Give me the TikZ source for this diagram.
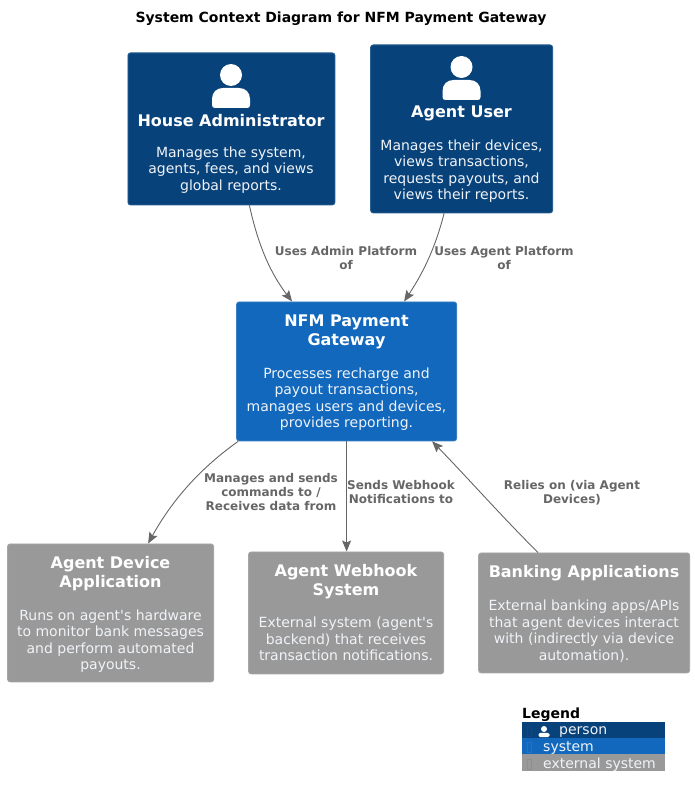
\documentclass[tikz,border=0pt]{standalone}
\usepackage{fontspec}
\setmainfont{DejaVu Sans}
\usetikzlibrary{arrows.meta}
\definecolor{personc}{HTML}{08427B}
\definecolor{personb}{HTML}{2A5F93}
\definecolor{systemc}{HTML}{1168BD}
\definecolor{systemb}{HTML}{3C7FC0}
\definecolor{extc}{HTML}{999999}
\definecolor{extb}{HTML}{A6A6A6}
\definecolor{linec}{HTML}{666666}
\definecolor{labelc}{HTML}{666666}
\definecolor{descc}{HTML}{F0F3F7}
\tikzset{
  x=1pt,y=-1pt,
  box/.style={rectangle,rounded corners=2.5pt,inner sep=0pt,line width=0.8pt,anchor=north west},
  personbox/.style={box,fill=personc,draw=personb},
  systembox/.style={box,fill=systemc,draw=systemb},
  extbox/.style={box,fill=extc,draw=extb},
  nametext/.style={text=white,align=center,inner sep=0pt,font=\fontsize{16}{19}\selectfont\bfseries},
  desctext/.style={text=descc,align=center,inner sep=0pt,font=\fontsize{14}{16.4}\selectfont},
  linklabel/.style={text=labelc,align=center,inner sep=0pt,font=\fontsize{12}{14}\selectfont\bfseries},
  rel/.style={draw=linec,line width=0.9pt,-{Stealth[length=11pt,width=9pt,inset=2pt,fill=linec]}},
  legendrow/.style={rectangle,inner sep=0pt,anchor=north west,minimum width=143pt,minimum height=16pt},
  legendtext/.style={text=descc,inner sep=0pt,anchor=west,font=\fontsize{14}{16}\selectfont},
  tofu/.style={draw=#1,line width=0.6pt,fill=none},
}
\newcommand{\personicon}[2]{%
  \fill[white] (#1,#2) circle (11);
  \fill[white] (#1-19,#2+30) -- (#1-19,#2+24) .. controls (#1-19,#2+17) and (#1-14,#2+13) .. (#1-8,#2+13)
    -- (#1+8,#2+13) .. controls (#1+14,#2+13) and (#1+19,#2+17) .. (#1+19,#2+24) -- (#1+19,#2+30)
    .. controls (#1+19,#2+32) and (#1+18,#2+33) .. (#1+16,#2+33) -- (#1-16,#2+33)
    .. controls (#1-18,#2+33) and (#1-19,#2+32) .. (#1-19,#2+30) -- cycle;
}
\begin{document}
\begin{tikzpicture}
\useasboundingbox (0,0) rectangle (694,797);
\node[inner sep=0pt,font=\fontsize{14}{16}\selectfont\bfseries] (title) at (341,19) {System Context Diagram for NFM Payment Gateway};

\node[personbox,minimum width=207pt,minimum height=152pt] (house) at (127.5,52.5) {};
\node[personbox,minimum width=182pt,minimum height=168pt] (agent) at (370.2,44.5) {};
\node[systembox,minimum width=220pt,minimum height=139pt] (nfm) at (236.2,301.5) {};
\node[extbox,minimum width=206pt,minimum height=138pt] (device) at (7.2,543.5) {};
\node[extbox,minimum width=195pt,minimum height=122pt] (webhook) at (248.2,551.5) {};
\node[extbox,minimum width=211pt,minimum height=120pt] (banking) at (478.2,552.5) {};

\personicon{231}{75}
\personicon{461.5}{67}

\node[nametext] (housename) at (231,121) {House Administrator};
\node[desctext] (housedesc) at (231,170) {Manages the system,\\agents, fees, and views\\global reports.};
\node[nametext] (agentname) at (461.5,113) {Agent User};
\node[desctext] (agentdesc) at (461.5,171) {Manages their devices,\\views transactions,\\requests payouts, and\\views their reports.};
\node[nametext] (nfmname) at (346.5,331.5) {NFM Payment\\Gateway};
\node[desctext] (nfmdesc) at (346.5,399) {Processes recharge and\\payout transactions,\\manages users and devices,\\provides reporting.};
\node[nametext] (devicename) at (110.5,573.5) {Agent Device\\Application};
\node[desctext] (devicedesc) at (110.5,641) {Runs on agent\textquotesingle s hardware\\to monitor bank messages\\and perform automated\\payouts.};
\node[nametext] (webhookname) at (346,581.5) {Agent Webhook\\System};
\node[desctext] (webhookdesc) at (346,639) {External system (agent\textquotesingle s\\backend) that receives\\transaction notifications.};
\node[nametext] (bankingname) at (584,573) {Banking Applications};
\node[desctext] (bankingdesc) at (584,631) {External banking apps/APIs\\that agent devices interact\\with (indirectly via device\\automation).};

\draw[rel] ([xshift=18pt]house.south) .. controls (257,240) and (268,270) .. ([xshift=-54.5pt]nfm.north);
\draw[rel] ([xshift=-17.5pt]agent.south) .. controls (436,245) and (425,270) .. ([xshift=57.5pt]nfm.north);
\draw[rel] ([xshift=2pt]nfm.south west) .. controls (205,465) and (175,495) .. ([xshift=37.5pt]device.north);
\draw[rel] (nfm.south) -- (nfm.south |- webhook.north);
\draw[rel] ([xshift=-46pt]banking.north) .. controls (505,520) and (465,475) .. ([xshift=85.5pt]nfm.south);

\node[linklabel] (l1) at (346,258.5) {Uses Admin Platform\\of};
\node[linklabel] (l2) at (504,258.5) {Uses Agent Platform\\of};
\node[linklabel] (l3) at (271,492.5) {Manages and sends\\commands to /\\Receives data from};
\node[linklabel] (l4) at (401,492.5) {Sends Webhook\\Notifications to};
\node[linklabel] (l5) at (572,492.5) {Relies on (via Agent\\Devices)};

\node[inner sep=0pt,anchor=west,font=\fontsize{14}{16}\selectfont\bfseries] (legendtitle) at (522,714.5) {Legend};
\node[legendrow,fill=personc] (lperson) at (522,722) {};
\node[legendrow,fill=systemc] (lsystem) at (522,738) {};
\node[legendrow,fill=extc,minimum height=17pt] (lext) at (522,754) {};
\draw[tofu=personb!20!personc] (527.5,726.5) rectangle (531.5,736);
\draw[tofu=systemb!50!systemc] (527.5,742.5) rectangle (531.5,752);
\draw[tofu=black!7!extc] (527.5,759) rectangle (531.5,769);
\fill[white] (544,729) circle (3);
\fill[white,rounded corners=1.5pt] (538.5,737) -- (538.5,732.8) -- (549.5,732.8) -- (549.5,737) -- cycle;
\node[legendtext] (ltp) at (559,732) {person};
\node[legendtext] (lts) at (543,748) {system};
\node[legendtext] (lte) at (543,764.5) {external system};
\end{tikzpicture}
\end{document}
